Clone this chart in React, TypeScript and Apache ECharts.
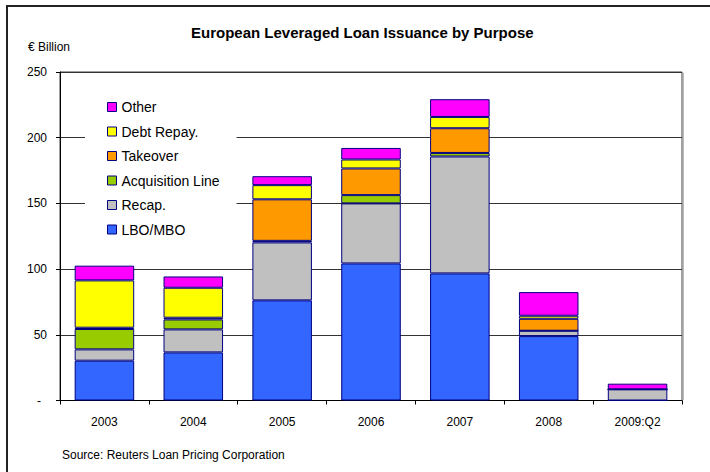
import React, { useEffect, useRef } from "react";
import * as echarts from "echarts";

const categories = ["2003", "2004", "2005", "2006", "2007", "2008", "2009:Q2"];
const lboMbo = [30.3, 36.6, 76.2, 104.3, 96.7, 49.0, 0];
const recap = [8.6, 17.5, 44.1, 45.7, 89.0, 4.1, 8.5];
const acquisitionLine = [15.5, 7.6, 1.2, 6.3, 2.7, 0, 0];
const takeover = [1.0, 1.3, 31.6, 20.3, 18.8, 9.1, 0];
const debtRepay = [36.0, 22.8, 10.8, 6.8, 8.6, 2.3, 0];
const other = [11.2, 8.6, 6.8, 8.8, 13.5, 18.0, 4.3];
const yTicks = { min: 0, max: 250, interval: 50 };

const FONT = "'Liberation Sans', Arial, sans-serif";

export default function App() {
  const ref = useRef<HTMLDivElement>(null);
  useEffect(() => {
    if (!ref.current) return;
    const chart = echarts.init(ref.current, null, { renderer: "svg" });
    const mk = (name: string, data: number[], color: string) => ({
      name,
      type: "bar",
      stack: "total",
      data,
      barWidth: "67%",
      itemStyle: { color, borderColor: "#000080", borderWidth: 1 },
    });
    chart.setOption({
      animation: false,
      backgroundColor: "#fff",
      textStyle: { fontFamily: FONT },
      title: {
        text: "European Leveraged Loan Issuance by Purpose",
        left: 191,
        top: 25,
        padding: 0,
        textStyle: { fontFamily: FONT, fontSize: 15, fontWeight: "bold", color: "#000" },
      },
      graphic: [
        {
          type: "rect",
          shape: { x: 7, y: 6, width: 720, height: 480 },
          style: { fill: "none", stroke: "#222", lineWidth: 2 },
          silent: true,
        },
        {
          type: "line",
          shape: { x1: 683.5, y1: 73, x2: 683.5, y2: 400 },
          style: { stroke: "#bbb", lineWidth: 1 },
          silent: true,
        },
        {
          type: "text",
          x: 28,
          y: 47,
          style: {
            text: "€ Billion",
            fontFamily: FONT,
            fontSize: 12,
            fill: "#000",
            verticalAlign: "middle",
          },
        },
        {
          type: "text",
          x: 62,
          y: 455,
          style: {
            text: "Source: Reuters Loan Pricing Corporation",
            fontFamily: FONT,
            fontSize: 12,
            fill: "#000",
            verticalAlign: "middle",
          },
        },
      ],
      legend: {
        orient: "vertical",
        left: 85,
        top: 90,
        data: ["Other", "Debt Repay.", "Takeover", "Acquisition Line", "Recap.", "LBO/MBO"],
        backgroundColor: "#fff",
        padding: [10, 17, 8, 22],
        itemWidth: 9,
        itemHeight: 9,
        itemGap: 10.5,
        itemTextGap: 5,
        icon: "rect",
        itemStyle: { borderColor: "#000080", borderWidth: 1 },
        textStyle: { fontFamily: FONT, fontSize: 14, color: "#000" },
        z: 5,
      },
      grid: {
        left: 60,
        right: 28,
        top: 72,
        bottom: 71.5,
        show: true,
        borderColor: "#404040",
        borderWidth: 1,
      },
      xAxis: {
        type: "category",
        data: categories,
        axisLine: { lineStyle: { color: "#000", width: 1 } },
        axisTick: { show: true, length: 4, lineStyle: { color: "#000" } },
        axisLabel: { margin: 15, fontFamily: FONT, fontSize: 12, color: "#000" },
      },
      yAxis: {
        type: "value",
        min: yTicks.min,
        max: yTicks.max,
        interval: yTicks.interval,
        axisLine: { show: true, lineStyle: { color: "#000", width: 1 } },
        axisTick: { show: true, length: 4, lineStyle: { color: "#000" } },
        splitLine: { show: true, lineStyle: { color: "#333", width: 1 } },
        axisLabel: {
          margin: 13,
          fontFamily: FONT,
          fontSize: 12,
          color: "#000",
          formatter: (v: number) => (v === 0 ? "{dash|-}" : String(v)),
          rich: { dash: { padding: [0, 6, 0, 0], fontSize: 12, fontFamily: FONT, color: "#000" } },
        },
      },
      series: [
        mk("LBO/MBO", lboMbo, "#3366FF"),
        mk("Recap.", recap, "#C0C0C0"),
        mk("Acquisition Line", acquisitionLine, "#99CC00"),
        mk("Takeover", takeover, "#FF9900"),
        mk("Debt Repay.", debtRepay, "#FFFF00"),
        mk("Other", other, "#FF00FF"),
      ],
    });
    return () => chart.dispose();
  }, []);
  return (
    <div
      ref={ref}
      style={{ position: "fixed", left: 0, top: 0, width: 710, height: 472 }}
    />
  );
}
